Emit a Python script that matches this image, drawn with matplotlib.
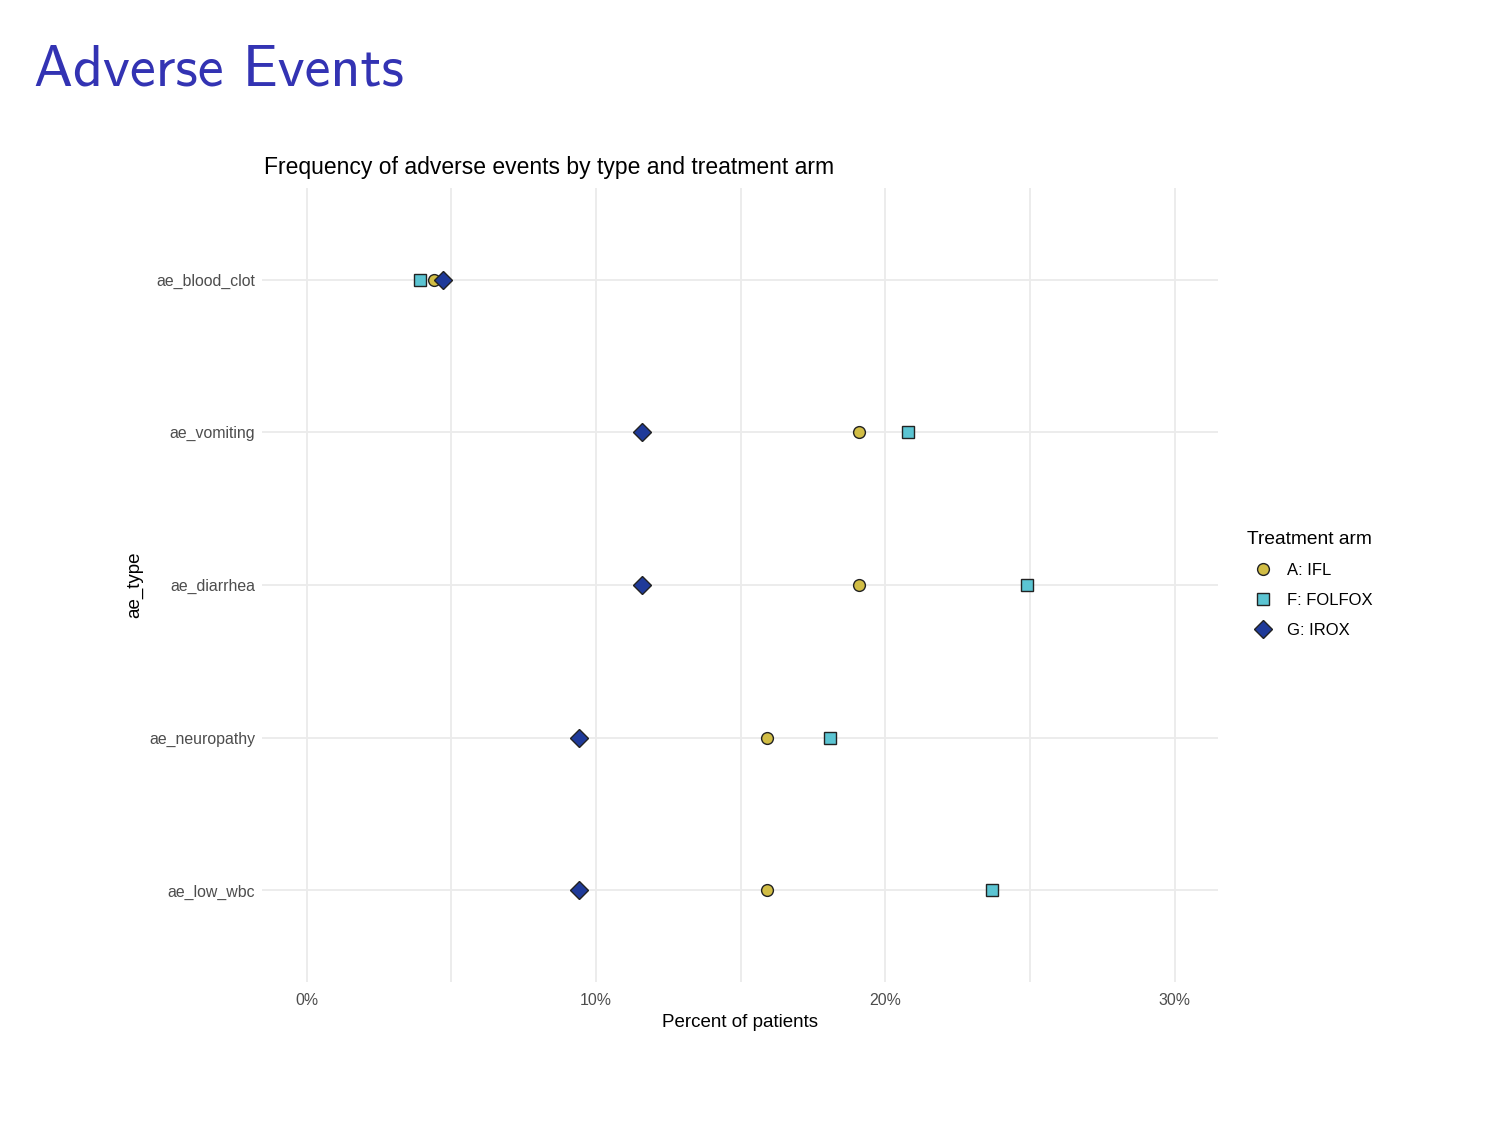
import matplotlib
matplotlib.use("Agg")
import matplotlib.pyplot as plt
from matplotlib.lines import Line2D
from matplotlib.ticker import FixedLocator, FuncFormatter

# data (percent of patients)
ae_types = ["ae_blood_clot", "ae_vomiting", "ae_diarrhea", "ae_neuropathy", "ae_low_wbc"]
arms = ["A: IFL", "F: FOLFOX", "G: IROX"]
pct_ifl = [4.4, 19.1, 19.1, 15.9, 15.9]
pct_folfox = [3.9, 20.8, 24.9, 18.1, 23.7]
pct_irox = [4.7, 11.6, 11.6, 9.4, 9.4]

arm_values = [pct_ifl, pct_folfox, pct_irox]
arm_markers = ["o", "s", "D"]
arm_colors = ["#D1BD45", "#5BC4D2", "#1F3A99"]
arm_sizes = [8.5, 8.0, 8.8]
arm_z = [4, 3, 5]

plt.rcParams["font.family"] = ["Liberation Sans", "DejaVu Sans"]

fig = plt.figure(figsize=(15.06, 11.3), dpi=100)
fig.text(34 / 1506, 1 - 70 / 1130, "Adverse Events", fontsize=42,
         color="#3333B3", family="cmss10", va="center", ha="left")

ax = fig.add_axes([262 / 1506, 1 - 982 / 1130, (1218 - 262) / 1506, (982 - 188) / 1130])

ypos = list(range(len(ae_types), 0, -1))
for vals, mk, col, ms, z, lab in zip(arm_values, arm_markers, arm_colors, arm_sizes, arm_z, arms):
    ax.plot(vals, ypos, linestyle="none", marker=mk, markersize=ms,
            markerfacecolor=col, markeredgecolor="#222222", markeredgewidth=1.0,
            zorder=z, label=lab)

ax.set_xlim(-1.55, 31.5)
ax.set_ylim(0.4, 5.6)
ax.xaxis.set_major_locator(FixedLocator([0, 10, 20, 30]))
ax.xaxis.set_minor_locator(FixedLocator([5, 15, 25]))
ax.xaxis.set_major_formatter(FuncFormatter(lambda v, p: f"{v:.0f}%"))
ax.set_yticks(ypos)
ax.set_yticklabels(ae_types)
ax.grid(True, which="both", color="#EBEBEB", linewidth=1.3)
ax.set_axisbelow(True)
for s in ax.spines.values():
    s.set_visible(False)
ax.tick_params(axis="both", which="both", length=0, labelsize=11.4, labelcolor="#4D4D4D")
ax.tick_params(axis="x", pad=8)
ax.tick_params(axis="y", pad=5)

ax.set_xlabel("Percent of patients", fontsize=13.5, color="black", labelpad=4)
ax.set_ylabel("ae_type", fontsize=13.5, color="black", labelpad=4)
ax.set_title("Frequency of adverse events by type and treatment arm", fontsize=16.5,
             loc="left", pad=10, x=0.002)

handles = [Line2D([], [], linestyle="none", marker=mk, markersize=ms, markerfacecolor=col,
                  markeredgecolor="#222222", markeredgewidth=1.0)
           for mk, col, ms in zip(arm_markers, arm_colors, arm_sizes)]
leg = fig.legend(handles, arms, title="Treatment arm", loc="upper left",
                 bbox_to_anchor=(1232 / 1506, 1 - 516 / 1130), frameon=False,
                 fontsize=12, title_fontsize=13.8, handletextpad=0.45,
                 labelspacing=0.9, handlelength=1.95)
leg._legend_box.align = "left"

fig.savefig("out.png", dpi=100)
